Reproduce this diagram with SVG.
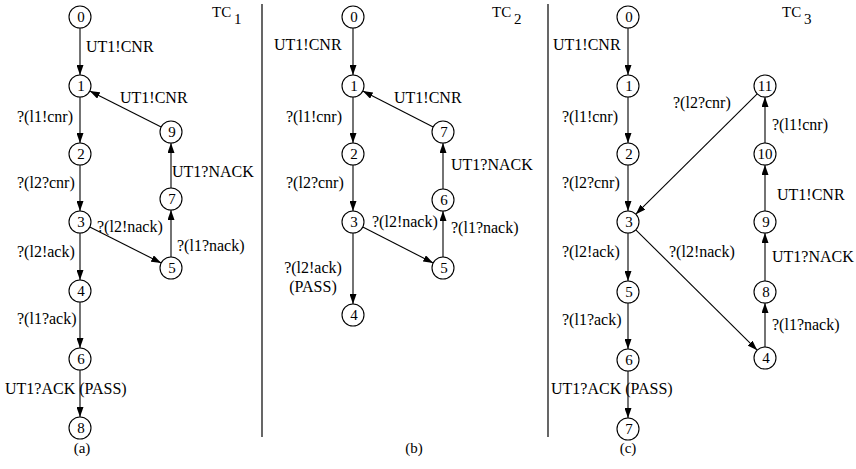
<svg xmlns="http://www.w3.org/2000/svg" width="856" height="469" viewBox="0 0 856 469" font-family="Liberation Serif, Times New Roman, serif">
<style>
text{font-family:"Liberation Serif","Times New Roman",serif;fill:#000}
.lb{font-size:16px}
.nd circle{fill:#fff;stroke:#000;stroke-width:1.1}
.nd text{font-size:15px;text-anchor:middle}
.e line{stroke:#000;stroke-width:1.1;marker-end:url(#ah)}
.sep{stroke:#000;stroke-width:1.2}
.cap{font-size:15px;text-anchor:middle}
.tc{font-size:15px}
</style>
<defs>
<marker id="ah" markerUnits="userSpaceOnUse" markerWidth="10" markerHeight="7" refX="10" refY="3.5" orient="auto">
<path d="M0,0 L10,3.5 L0,7 z" fill="#000"/>
</marker>
</defs>
<rect width="856" height="469" fill="#fff"/>
<line class="sep" x1="262" y1="4" x2="262" y2="437"/>
<line class="sep" x1="548" y1="4" x2="548" y2="437"/>

<g id="connectors" class="e">
<!-- (a) -->
<line x1="80" y1="28" x2="80" y2="75"/>
<line x1="80" y1="97" x2="80" y2="143"/>
<line x1="80" y1="165" x2="80" y2="211"/>
<line x1="80" y1="233" x2="80" y2="280"/>
<line x1="80" y1="302" x2="80" y2="348"/>
<line x1="80" y1="370" x2="80" y2="417"/>
<line x1="161.2" y1="127" x2="89.8" y2="91"/>
<line x1="89.8" y1="227" x2="161.2" y2="263"/>
<line x1="171" y1="257" x2="171" y2="210"/>
<line x1="171" y1="188" x2="171" y2="143"/>
<!-- (b) -->
<line x1="353" y1="28" x2="353" y2="75"/>
<line x1="353" y1="97" x2="353" y2="143"/>
<line x1="353" y1="165" x2="353" y2="211"/>
<line x1="353" y1="233" x2="353" y2="304"/>
<line x1="433.2" y1="127" x2="362.8" y2="91"/>
<line x1="362.8" y1="227" x2="433.2" y2="263"/>
<line x1="443" y1="257" x2="443" y2="211"/>
<line x1="443" y1="189" x2="443" y2="143"/>
<!-- (c) -->
<line x1="628" y1="28" x2="628" y2="75"/>
<line x1="628" y1="97" x2="628" y2="143"/>
<line x1="628" y1="165" x2="628" y2="211"/>
<line x1="628" y1="233" x2="628" y2="281"/>
<line x1="628" y1="303" x2="628" y2="349"/>
<line x1="628" y1="371" x2="628" y2="418"/>
<line x1="757.2" y1="93.8" x2="635.8" y2="214.2"/>
<line x1="635.8" y1="229.8" x2="757.2" y2="350.2"/>
<line x1="765" y1="347" x2="765" y2="303"/>
<line x1="765" y1="281" x2="765" y2="233"/>
<line x1="765" y1="211" x2="765" y2="165"/>
<line x1="765" y1="143" x2="765" y2="97"/>
</g>

<!-- (a) nodes -->
<g id="a0" class="nd"><circle cx="80" cy="17" r="11"/><text x="81" y="22">0</text></g>
<g id="a1" class="nd"><circle cx="80" cy="86" r="11"/><text x="81" y="91">1</text></g>
<g id="a2" class="nd"><circle cx="80" cy="154" r="11"/><text x="81" y="159">2</text></g>
<g id="a3" class="nd"><circle cx="80" cy="222" r="11"/><text x="81" y="227">3</text></g>
<g id="a4" class="nd"><circle cx="80" cy="291" r="11"/><text x="81" y="296">4</text></g>
<g id="a6" class="nd"><circle cx="80" cy="359" r="11"/><text x="81" y="364">6</text></g>
<g id="a8" class="nd"><circle cx="80" cy="428" r="11"/><text x="81" y="433">8</text></g>
<g id="a9" class="nd"><circle cx="171" cy="132" r="11"/><text x="172" y="137">9</text></g>
<g id="a7" class="nd"><circle cx="171" cy="199" r="11"/><text x="172" y="204">7</text></g>
<g id="a5" class="nd"><circle cx="171" cy="268" r="11"/><text x="172" y="273">5</text></g>

<!-- (b) nodes -->
<g id="b0" class="nd"><circle cx="353" cy="17" r="11"/><text x="354" y="22">0</text></g>
<g id="b1" class="nd"><circle cx="353" cy="86" r="11"/><text x="354" y="91">1</text></g>
<g id="b2" class="nd"><circle cx="353" cy="154" r="11"/><text x="354" y="159">2</text></g>
<g id="b3" class="nd"><circle cx="353" cy="222" r="11"/><text x="354" y="227">3</text></g>
<g id="b4" class="nd"><circle cx="353" cy="315" r="11"/><text x="354" y="320">4</text></g>
<g id="b7" class="nd"><circle cx="443" cy="132" r="11"/><text x="444" y="137">7</text></g>
<g id="b6" class="nd"><circle cx="443" cy="200" r="11"/><text x="444" y="205">6</text></g>
<g id="b5" class="nd"><circle cx="443" cy="268" r="11"/><text x="444" y="273">5</text></g>

<!-- (c) nodes -->
<g id="c0" class="nd"><circle cx="628" cy="17" r="11"/><text x="629" y="22">0</text></g>
<g id="c1" class="nd"><circle cx="628" cy="86" r="11"/><text x="629" y="91">1</text></g>
<g id="c2" class="nd"><circle cx="628" cy="154" r="11"/><text x="629" y="159">2</text></g>
<g id="c3" class="nd"><circle cx="628" cy="222" r="11"/><text x="629" y="227">3</text></g>
<g id="c5" class="nd"><circle cx="628" cy="292" r="11"/><text x="629" y="297">5</text></g>
<g id="c6" class="nd"><circle cx="628" cy="360" r="11"/><text x="629" y="365">6</text></g>
<g id="c7" class="nd"><circle cx="628" cy="429" r="11"/><text x="629" y="434">7</text></g>
<g id="c11" class="nd"><circle cx="765" cy="86" r="11"/><text x="765" y="91">11</text></g>
<g id="c10" class="nd"><circle cx="765" cy="154" r="11"/><text x="765" y="159">10</text></g>
<g id="c9" class="nd"><circle cx="765" cy="222" r="11"/><text x="766" y="227">9</text></g>
<g id="c8" class="nd"><circle cx="765" cy="292" r="11"/><text x="766" y="297">8</text></g>
<g id="c4" class="nd"><circle cx="765" cy="358" r="11"/><text x="766" y="363">4</text></g>

<g id="labels" class="lb">
<!-- (a) -->
<text x="86" y="52">UT1!CNR</text>
<text x="120" y="103">UT1!CNR</text>
<text x="17" y="122">?(l1!cnr)</text>
<text x="17" y="188">?(l2?cnr)</text>
<text x="172" y="177">UT1?NACK</text>
<text x="97" y="232">?(l2!nack)</text>
<text x="177" y="251">?(l1?nack)</text>
<text x="17" y="257">?(l2!ack)</text>
<text x="17" y="324">?(l1?ack)</text>
<text x="5" y="394">UT1?ACK (PASS)</text>
<!-- (b) -->
<text x="274" y="50">UT1!CNR</text>
<text x="394" y="103">UT1!CNR</text>
<text x="286" y="122">?(l1!cnr)</text>
<text x="286" y="188">?(l2?cnr)</text>
<text x="451" y="170">UT1?NACK</text>
<text x="372" y="227">?(l2!nack)</text>
<text x="451" y="233">?(l1?nack)</text>
<text text-anchor="middle" x="313" y="273">?(l2!ack)<tspan x="313" y="292">(PASS)</tspan></text>
<!-- (c) -->
<text x="553" y="50">UT1!CNR</text>
<text x="562" y="122">?(l1!cnr)</text>
<text x="562" y="188">?(l2?cnr)</text>
<text x="673" y="108">?(l2?cnr)</text>
<text x="772" y="130">?(l1!cnr)</text>
<text x="777" y="200">UT1!CNR</text>
<text x="562" y="257">?(l2!ack)</text>
<text x="669" y="257">?(l2!nack)</text>
<text x="772" y="262">UT1?NACK</text>
<text x="562" y="325">?(l1?ack)</text>
<text x="772" y="330">?(l1?nack)</text>
<text x="551" y="394">UT1?ACK (PASS)</text>
</g>

<g id="titles">
<text class="tc" x="212" y="17">TC<tspan x="234" y="24">1</tspan></text>
<text class="tc" x="492" y="17">TC<tspan x="514" y="24">2</tspan></text>
<text class="tc" x="782" y="17">TC<tspan x="804" y="24">3</tspan></text>
<text class="cap" x="82" y="453">(a)</text>
<text class="cap" x="414" y="453">(b)</text>
<text class="cap" x="628" y="453">(c)</text>
</g>
</svg>
